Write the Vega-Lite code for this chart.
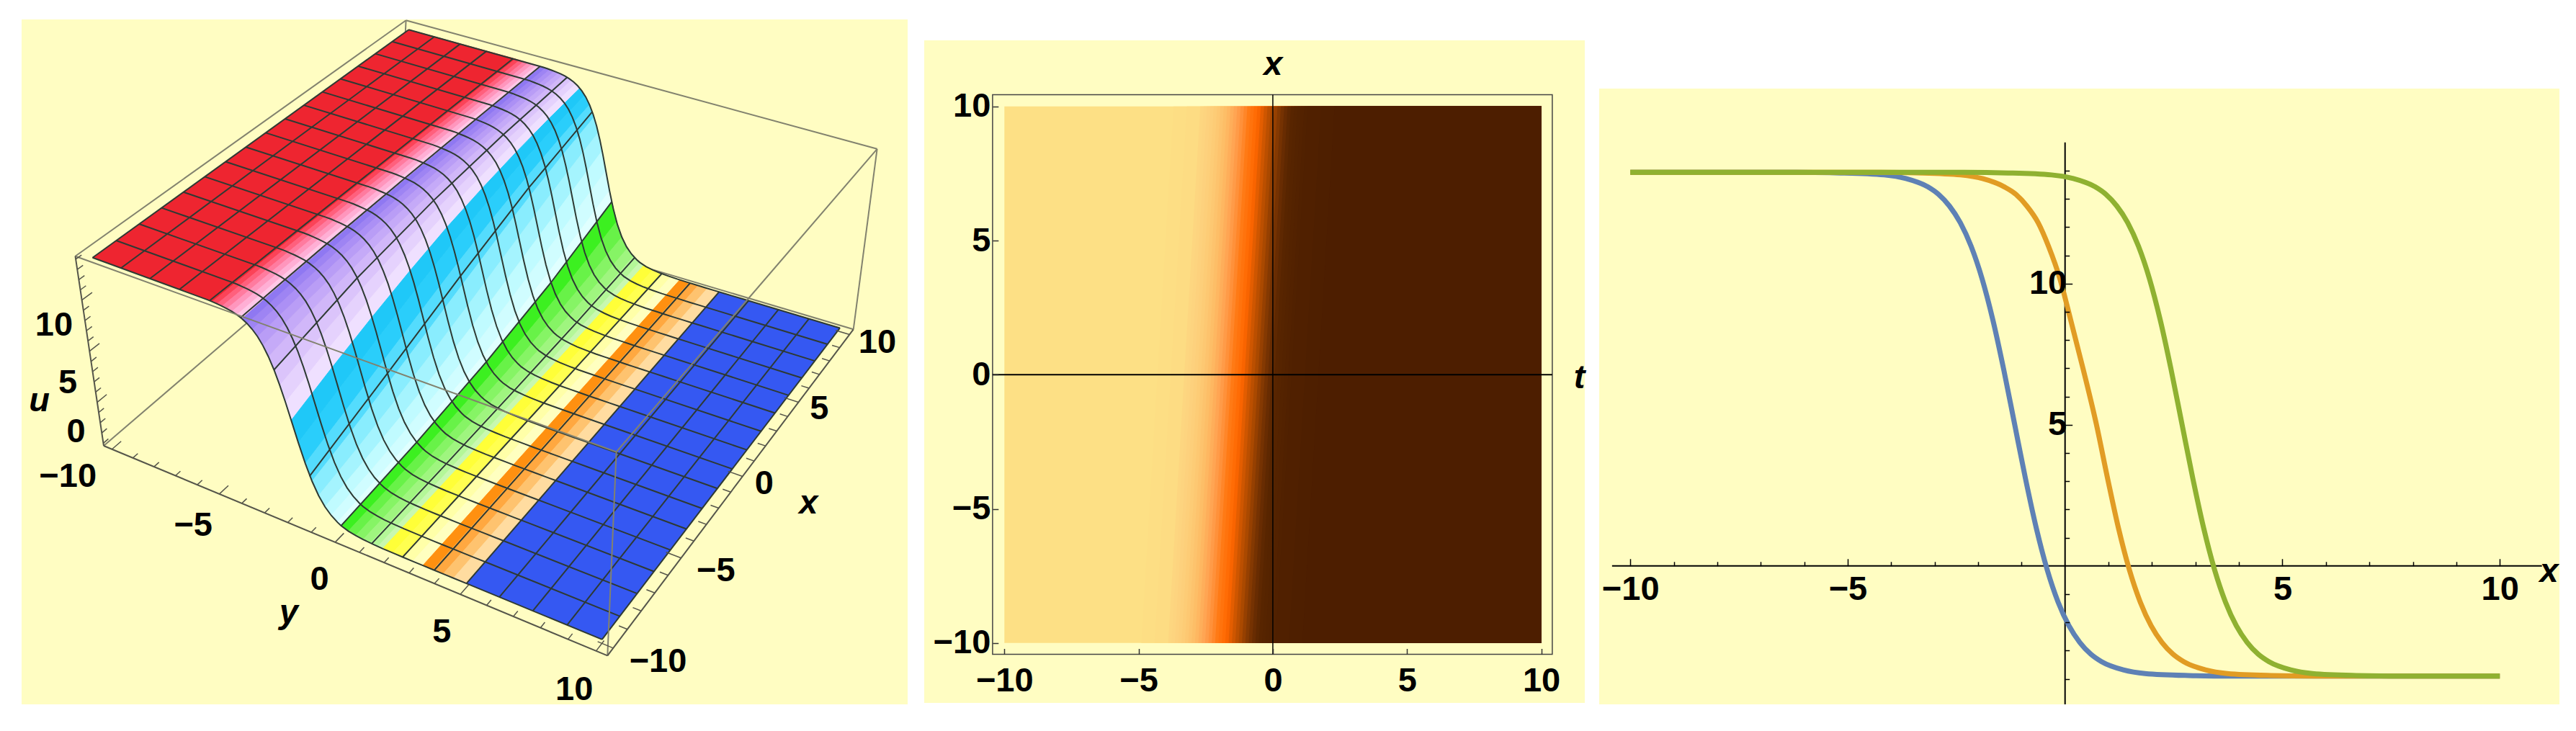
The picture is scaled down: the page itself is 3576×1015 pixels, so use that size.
{
"$schema":"https://vega.github.io/schema/vega-lite/v6.json",
"background":"white",
"padding":{"left":30,"top":24,"right":0,"bottom":0},
"spacing":10,
"bounds":"flush",
"resolve":{"scale":{"fill":"independent","stroke":"independent","color":"independent"}},
"config":{"view":{"stroke":null},"axis":{"labelFont":"Liberation Sans","labelFontWeight":"bold","labelFontSize":47,"labelColor":"black","titleFont":"Liberation Sans","titleFontWeight":"bold","titleFontStyle":"italic","titleFontSize":47,"titleColor":"black","grid":false}},
"datasets":{
"ynodes":[{"yn":-10},{"yn":-5.1},{"yn":-4.9},{"yn":-4.7},{"yn":-4.5},{"yn":-4.3},{"yn":-4.1},{"yn":-3.9},{"yn":-3.7},{"yn":-3.5},{"yn":-3.3},{"yn":-3.1},{"yn":-2.9},{"yn":-2.7},{"yn":-2.5},{"yn":-2.3},{"yn":-2.1},{"yn":-1.9},{"yn":-1.65},{"yn":-1.4},{"yn":-1.15},{"yn":-0.9},{"yn":-0.65},{"yn":-0.4},{"yn":-0.15},{"yn":0},{"yn":0.3},{"yn":0.6},{"yn":0.9},{"yn":1.2},{"yn":1.5},{"yn":1.7},{"yn":2.1},{"yn":2.5},{"yn":2.9},{"yn":3.3},{"yn":3.7},{"yn":4.1},{"yn":4.5},{"yn":5},{"yn":10}],
"prof":[{"s":-20,"u":13.94},{"s":-3.2,"u":13.87},{"s":-3,"u":13.85},{"s":-2.8,"u":13.8},{"s":-2.6,"u":13.75},{"s":-2.4,"u":13.68},{"s":-2.2,"u":13.58},{"s":-2,"u":13.43},{"s":-1.8,"u":13.22},{"s":-1.6,"u":12.93},{"s":-1.4,"u":12.54},{"s":-1.2,"u":12.02},{"s":-1,"u":11.32},{"s":-0.8,"u":10.43},{"s":-0.6,"u":9.34},{"s":-0.4,"u":8.04},{"s":-0.2,"u":6.58},{"s":0,"u":5.02},{"s":0.25,"u":3.09},{"s":0.5,"u":1.33},{"s":0.75,"u":-0.14},{"s":1,"u":-1.28},{"s":1.25,"u":-2.12},{"s":1.5,"u":-2.71},{"s":1.75,"u":-3.12},{"s":1.9,"u":-3.31},{"s":2.2,"u":-3.55},{"s":2.5,"u":-3.68},{"s":2.8,"u":-3.77},{"s":3.2,"u":-3.83},{"s":3.6,"u":-3.87},{"s":4,"u":-3.88},{"s":4.4,"u":-3.89},{"s":4.8,"u":-3.9},{"s":5.2,"u":-3.9},{"s":5.6,"u":-3.9},{"s":6,"u":-3.9},{"s":6.4,"u":-3.9},{"s":6.9,"u":-3.9},{"s":20,"u":-3.9}],
"ylines":[{"yl":-10,"px":-10,"pu":13.94},{"yl":-10,"px":10,"pu":13.94},{"yl":-8.75,"px":-10,"pu":13.94},{"yl":-8.75,"px":10,"pu":13.94},{"yl":-7.5,"px":-10,"pu":13.94},{"yl":-7.5,"px":10,"pu":13.94},{"yl":-6.25,"px":-10,"pu":13.93},{"yl":-6.25,"px":10,"pu":13.94},
{"yl":-5,"px":-10,"pu":13.87},{"yl":-5,"px":-5,"pu":13.9},{"yl":-5,"px":0,"pu":13.91},{"yl":-5,"px":5,"pu":13.93},{"yl":-5,"px":10,"pu":13.93},
{"yl":-3.75,"px":-10,"pu":13.28},{"yl":-3.75,"px":-5,"pu":13.58},{"yl":-3.75,"px":0,"pu":13.75},{"yl":-3.75,"px":5,"pu":13.84},{"yl":-3.75,"px":10,"pu":13.89},
{"yl":-2.5,"px":-10,"pu":9.34},{"yl":-2.5,"px":-5,"pu":11.2},{"yl":-2.5,"px":0,"pu":12.42},{"yl":-2.5,"px":5,"pu":13.13},{"yl":-2.5,"px":10,"pu":13.53},
{"yl":-1.25,"px":-10,"pu":0.25},{"yl":-1.25,"px":-5,"pu":2.9},{"yl":-1.25,"px":0,"pu":5.8},{"yl":-1.25,"px":5,"pu":8.55},{"yl":-1.25,"px":10,"pu":10.7},
{"yl":0,"px":-10,"pu":-3.31},{"yl":0,"px":-5,"pu":-2.75},{"yl":0,"px":0,"pu":-1.8},{"yl":0,"px":5,"pu":-0.28},{"yl":0,"px":10,"pu":2.03},
{"yl":1.25,"px":-10,"pu":-3.83},{"yl":1.25,"px":-5,"pu":-3.76},{"yl":1.25,"px":0,"pu":-3.63},{"yl":1.25,"px":5,"pu":-3.41},{"yl":1.25,"px":10,"pu":-3},
{"yl":2.5,"px":-10,"pu":-3.89},{"yl":2.5,"px":-5,"pu":-3.88},{"yl":2.5,"px":0,"pu":-3.87},{"yl":2.5,"px":5,"pu":-3.84},{"yl":2.5,"px":10,"pu":-3.79},{"yl":3.75,"px":-10,"pu":-3.9},{"yl":3.75,"px":10,"pu":-3.88},{"yl":5,"px":-10,"pu":-3.9},{"yl":5,"px":10,"pu":-3.9},{"yl":6.25,"px":-10,"pu":-3.9},{"yl":6.25,"px":10,"pu":-3.9},{"yl":7.5,"px":-10,"pu":-3.9},{"yl":7.5,"px":10,"pu":-3.9},{"yl":8.75,"px":-10,"pu":-3.9},{"yl":8.75,"px":10,"pu":-3.9},{"yl":10,"px":-10,"pu":-3.9},{"yl":10,"px":10,"pu":-3.9}],
"box":[{"e":"AD","f":"b","i":0,"px":-10.4,"py":-10.4,"pu":-4.26},{"e":"AD","f":"b","i":1,"px":10.4,"py":-10.4,"pu":-4.26},{"e":"DC","f":"b","i":0,"px":10.4,"py":-10.4,"pu":-4.26},{"e":"DC","f":"b","i":1,"px":10.4,"py":10.4,"pu":-4.26},{"e":"DD","f":"b","i":0,"px":10.4,"py":-10.4,"pu":-4.26},{"e":"DD","f":"b","i":1,"px":10.4,"py":-10.4,"pu":14.3},{"e":"AtDt","f":"b","i":0,"px":-10.4,"py":-10.4,"pu":14.3},{"e":"AtDt","f":"b","i":1,"px":10.4,"py":-10.4,"pu":14.3},{"e":"DtCt","f":"b","i":0,"px":10.4,"py":-10.4,"pu":14.3},{"e":"DtCt","f":"b","i":1,"px":10.4,"py":10.4,"pu":14.3},
{"e":"AtBt","f":"f","i":0,"px":-10.4,"py":-10.4,"pu":14.3},{"e":"AtBt","f":"f","i":1,"px":-10.4,"py":10.4,"pu":14.3},{"e":"BtCt","f":"f","i":0,"px":-10.4,"py":10.4,"pu":14.3},{"e":"BtCt","f":"f","i":1,"px":10.4,"py":10.4,"pu":14.3},{"e":"BB","f":"f","i":0,"px":-10.4,"py":10.4,"pu":-4.26},{"e":"BB","f":"f","i":1,"px":-10.4,"py":10.4,"pu":14.3},{"e":"CC","f":"f","i":0,"px":10.4,"py":10.4,"pu":-4.26},{"e":"CC","f":"f","i":1,"px":10.4,"py":10.4,"pu":14.3},
{"e":"AA","f":"a","i":0,"px":-10.4,"py":-10.4,"pu":-4.26},{"e":"AA","f":"a","i":1,"px":-10.4,"py":-10.4,"pu":14.3},{"e":"AB","f":"a","i":0,"px":-10.4,"py":-10.4,"pu":-4.26},{"e":"AB","f":"a","i":1,"px":-10.4,"py":10.4,"pu":-4.26},{"e":"BC","f":"a","i":0,"px":-10.4,"py":10.4,"pu":-4.26},{"e":"BC","f":"a","i":1,"px":10.4,"py":10.4,"pu":-4.26}],
"ticks":[{"k":"y","v":-10},{"k":"y","v":-9},{"k":"y","v":-8},{"k":"y","v":-7},{"k":"y","v":-6},{"k":"y","v":-5},{"k":"y","v":-4},{"k":"y","v":-3},{"k":"y","v":-2},{"k":"y","v":-1},{"k":"y","v":0},{"k":"y","v":1},{"k":"y","v":2},{"k":"y","v":3},{"k":"y","v":4},{"k":"y","v":5},{"k":"y","v":6},{"k":"y","v":7},{"k":"y","v":8},{"k":"y","v":9},{"k":"y","v":10},
{"k":"x","v":-10},{"k":"x","v":-9},{"k":"x","v":-8},{"k":"x","v":-7},{"k":"x","v":-6},{"k":"x","v":-5},{"k":"x","v":-4},{"k":"x","v":-3},{"k":"x","v":-2},{"k":"x","v":-1},{"k":"x","v":0},{"k":"x","v":1},{"k":"x","v":2},{"k":"x","v":3},{"k":"x","v":4},{"k":"x","v":5},{"k":"x","v":6},{"k":"x","v":7},{"k":"x","v":8},{"k":"x","v":9},{"k":"x","v":10},
{"k":"u","v":-4},{"k":"u","v":-3},{"k":"u","v":-2},{"k":"u","v":-1},{"k":"u","v":0},{"k":"u","v":1},{"k":"u","v":2},{"k":"u","v":3},{"k":"u","v":4},{"k":"u","v":5},{"k":"u","v":6},{"k":"u","v":7},{"k":"u","v":8},{"k":"u","v":9},{"k":"u","v":10},{"k":"u","v":11},{"k":"u","v":12},{"k":"u","v":13},{"k":"u","v":14}],
"labels3d":[{"t":"−10","py":-10.4,"px":-12.5,"pu":-4.26},{"t":"−5","py":-4.78,"px":-12.27,"pu":-4.26},{"t":"0","py":0.6,"px":-12.27,"pu":-4.26},{"t":"5","py":5.4,"px":-12.27,"pu":-4.26},{"t":"10","py":10.2,"px":-12.27,"pu":-4.26},{"t":"−10","py":11.86,"px":-9.8,"pu":-4.26},{"t":"−5","py":11.65,"px":-5,"pu":-4.26},{"t":"0","py":11.2,"px":0,"pu":-4.26},{"t":"5","py":11.2,"px":5,"pu":-4.26},{"t":"10","py":11.5,"px":10,"pu":-4.26},{"t":"0","py":-10.2,"px":-11.9,"pu":-0.6},{"t":"5","py":-10.2,"px":-11.9,"pu":4.16},{"t":"10","py":-10.4,"px":-11.9,"pu":9.6}],
"titles3d":[{"t":"u","py":-10.4,"px":-13.2,"pu":4.1},{"t":"y","py":0.62,"px":-14.14,"pu":-4.26},{"t":"x","py":12.9,"px":-0.2,"pu":-4.26}],
"density":[{"u":13.94,"x":-10,"t":-10},{"u":13.94,"x":10,"t":-10},{"u":13.85,"x":-10,"t":-4.9},{"u":13.85,"x":10,"t":-3.7},{"u":13.72,"x":-10,"t":-4.4},{"u":13.72,"x":10,"t":-3.2},{"u":13.43,"x":-10,"t":-3.9},{"u":13.43,"x":10,"t":-2.7},{"u":13.31,"x":-10,"t":-3.775},{"u":13.31,"x":10,"t":-2.575},{"u":13.16,"x":-10,"t":-3.65},{"u":13.16,"x":10,"t":-2.45},{"u":12.97,"x":-10,"t":-3.525},{"u":12.97,"x":10,"t":-2.325},{"u":12.75,"x":-10,"t":-3.4},{"u":12.75,"x":10,"t":-2.2},{"u":12.48,"x":-10,"t":-3.275},{"u":12.48,"x":10,"t":-2.075},{"u":12.16,"x":-10,"t":-3.15},{"u":12.16,"x":10,"t":-1.95},{"u":11.78,"x":-10,"t":-3.025},{"u":11.78,"x":10,"t":-1.825},{"u":11.32,"x":-10,"t":-2.9},{"u":11.32,"x":10,"t":-1.7},{"u":10.79,"x":-10,"t":-2.775},{"u":10.79,"x":10,"t":-1.575},{"u":10.18,"x":-10,"t":-2.65},{"u":10.18,"x":10,"t":-1.45},{"u":9.48,"x":-10,"t":-2.525},{"u":9.48,"x":10,"t":-1.325},{"u":8.71,"x":-10,"t":-2.4},{"u":8.71,"x":10,"t":-1.2},{"u":7.86,"x":-10,"t":-2.275},{"u":7.86,"x":10,"t":-1.075},{"u":6.95,"x":-10,"t":-2.15},{"u":6.95,"x":10,"t":-0.95},{"u":6,"x":-10,"t":-2.025},{"u":6,"x":10,"t":-0.825},{"u":5.02,"x":-10,"t":-1.9},{"u":5.02,"x":10,"t":-0.7},{"u":4.04,"x":-10,"t":-1.775},{"u":4.04,"x":10,"t":-0.575},{"u":3.09,"x":-10,"t":-1.65},{"u":3.09,"x":10,"t":-0.45},{"u":2.18,"x":-10,"t":-1.525},{"u":2.18,"x":10,"t":-0.325},{"u":1.33,"x":-10,"t":-1.4},{"u":1.33,"x":10,"t":-0.2},{"u":0.56,"x":-10,"t":-1.275},{"u":0.56,"x":10,"t":-0.075},{"u":-0.14,"x":-10,"t":-1.15},{"u":-0.14,"x":10,"t":0.05},{"u":-0.75,"x":-10,"t":-1.025},{"u":-0.75,"x":10,"t":0.175},{"u":-1.28,"x":-10,"t":-0.9},{"u":-1.28,"x":10,"t":0.3},{"u":-1.74,"x":-10,"t":-0.775},{"u":-1.74,"x":10,"t":0.425},{"u":-2.12,"x":-10,"t":-0.65},{"u":-2.12,"x":10,"t":0.55},{"u":-2.44,"x":-10,"t":-0.525},{"u":-2.44,"x":10,"t":0.675},{"u":-2.71,"x":-10,"t":-0.4},{"u":-2.71,"x":10,"t":0.8},{"u":-2.93,"x":-10,"t":-0.275},{"u":-2.93,"x":10,"t":0.925},{"u":-3.12,"x":-10,"t":-0.15},{"u":-3.12,"x":10,"t":1.05},{"u":-3.27,"x":-10,"t":-0.025},{"u":-3.27,"x":10,"t":1.175},{"u":-3.39,"x":-10,"t":0.1},{"u":-3.39,"x":10,"t":1.3},{"u":-3.68,"x":-10,"t":0.6},{"u":-3.68,"x":10,"t":1.8},{"u":-3.81,"x":-10,"t":1.1},{"u":-3.81,"x":10,"t":2.3}],
"curves":[{"c":"t1","x":-10,"u":13.94},{"c":"t1","x":-6.16,"u":13.94},{"c":"t1","x":-5.16,"u":13.92},{"c":"t1","x":-4.16,"u":13.85},{"c":"t1","x":-3.66,"u":13.72},{"c":"t1","x":-3.16,"u":13.43},{"c":"t1","x":-2.91,"u":13.16},{"c":"t1","x":-2.66,"u":12.75},{"c":"t1","x":-2.41,"u":12.16},{"c":"t1","x":-2.16,"u":11.32},{"c":"t1","x":-1.91,"u":10.18},{"c":"t1","x":-1.66,"u":8.71},{"c":"t1","x":-1.41,"u":6.95},{"c":"t1","x":-1.16,"u":5.02},{"c":"t1","x":-0.91,"u":3.09},{"c":"t1","x":-0.66,"u":1.33},{"c":"t1","x":-0.41,"u":-0.14},{"c":"t1","x":-0.16,"u":-1.28},{"c":"t1","x":0.09,"u":-2.12},{"c":"t1","x":0.34,"u":-2.71},{"c":"t1","x":0.59,"u":-3.12},{"c":"t1","x":0.84,"u":-3.39},{"c":"t1","x":1.34,"u":-3.68},{"c":"t1","x":1.84,"u":-3.81},{"c":"t1","x":2.84,"u":-3.88},{"c":"t1","x":3.84,"u":-3.9},{"c":"t1","x":10,"u":-3.9},
{"c":"t2","x":-10,"u":13.94},{"c":"t2","x":-4.27,"u":13.94},{"c":"t2","x":-3.27,"u":13.92},{"c":"t2","x":-2.4,"u":13.85},{"c":"t2","x":-1.9,"u":13.72},{"c":"t2","x":-1.4,"u":13.43},{"c":"t2","x":-1.13,"u":13.16},{"c":"t2","x":-0.88,"u":12.75},{"c":"t2","x":-0.62,"u":12.16},{"c":"t2","x":-0.38,"u":11.32},{"c":"t2","x":-0.12,"u":10.18},{"c":"t2","x":0.13,"u":8.71},{"c":"t2","x":0.42,"u":6.95},{"c":"t2","x":0.72,"u":5.02},{"c":"t2","x":0.98,"u":3.09},{"c":"t2","x":1.23,"u":1.33},{"c":"t2","x":1.48,"u":-0.14},{"c":"t2","x":1.73,"u":-1.28},{"c":"t2","x":1.98,"u":-2.12},{"c":"t2","x":2.23,"u":-2.71},{"c":"t2","x":2.48,"u":-3.12},{"c":"t2","x":2.73,"u":-3.39},{"c":"t2","x":3.23,"u":-3.68},{"c":"t2","x":3.73,"u":-3.81},{"c":"t2","x":4.73,"u":-3.88},{"c":"t2","x":5.73,"u":-3.9},{"c":"t2","x":10,"u":-3.9},
{"c":"t3","x":-10,"u":13.94},{"c":"t3","x":-2.31,"u":13.94},{"c":"t3","x":-1.31,"u":13.92},{"c":"t3","x":-0.31,"u":13.85},{"c":"t3","x":0.19,"u":13.72},{"c":"t3","x":0.69,"u":13.43},{"c":"t3","x":0.94,"u":13.16},{"c":"t3","x":1.19,"u":12.75},{"c":"t3","x":1.44,"u":12.16},{"c":"t3","x":1.69,"u":11.32},{"c":"t3","x":1.94,"u":10.18},{"c":"t3","x":2.19,"u":8.71},{"c":"t3","x":2.44,"u":6.95},{"c":"t3","x":2.69,"u":5.02},{"c":"t3","x":2.94,"u":3.09},{"c":"t3","x":3.19,"u":1.33},{"c":"t3","x":3.44,"u":-0.14},{"c":"t3","x":3.69,"u":-1.28},{"c":"t3","x":3.94,"u":-2.12},{"c":"t3","x":4.19,"u":-2.71},{"c":"t3","x":4.44,"u":-3.12},{"c":"t3","x":4.69,"u":-3.39},{"c":"t3","x":5.19,"u":-3.68},{"c":"t3","x":5.69,"u":-3.81},{"c":"t3","x":6.69,"u":-3.88},{"c":"t3","x":7.69,"u":-3.9},{"c":"t3","x":10,"u":-3.9}]
},
"hconcat":[
{"width":1230,"height":951,"view":{"fill":"#FFFDC2","stroke":null},
"layer":[
{"data":{"name":"box"},"transform":[{"filter":"datum.f=='b'"},
{"calculate":"(datum.py+10.4)/20.8","as":"a"},{"calculate":"(datum.px+10.4)/20.8","as":"b"},{"calculate":"(datum.pu+4.26)/18.56","as":"w"},{"calculate":"1-0.15013*datum.a+0.18627*datum.b","as":"bd"},{"calculate":"1-0.12835*datum.a+0.21951*datum.b","as":"td"},{"calculate":"(1-datum.w)*(572.7*datum.a+510.8*datum.b+144)/datum.bd+datum.w*(641.3*datum.a+582.8*datum.b+104.5)/datum.td","as":"sx"},{"calculate":"(1-datum.w)*(154.9*datum.a-300.1*datum.b+618)/datum.bd+datum.w*(191.4*datum.a-321.5*datum.b+354.7)/datum.td","as":"sy"}],
"mark":{"type":"line","stroke":"#82826E","strokeWidth":2},
"encoding":{"x":{"field":"sx","type":"quantitative","axis":null,"scale":{"domain":[30,1260],"nice":false,"zero":false}},"y":{"field":"sy","type":"quantitative","axis":null,"scale":{"domain":[977,26],"nice":false,"zero":false}},"detail":{"field":"e"},"order":{"field":"i"}}},
{"data":{"name":"ynodes"},"transform":[{"window":[{"op":"lead","field":"yn","as":"y1"}],"sort":[{"field":"yn"}]},{"filter":"isValid(datum.y1)"},{"calculate":"[-10,-7.5,-5,-2.5,0,2.5,5,7.5]","as":"xa"},{"flatten":["xa"]},{"calculate":"[0,1,2,3]","as":"i"},{"flatten":["i"]},{"calculate":"datum.i==0||datum.i==3?datum.xa:datum.xa+2.5","as":"px"},{"calculate":"datum.i<2?datum.yn:datum.y1","as":"py"},{"calculate":"datum.yn+'_'+datum.xa","as":"id"},{"calculate":"(datum.py+1.15-0.075*datum.px+5)/0.25","as":"q"},{"calculate":"max(0,min(39,floor(datum.q)))","as":"k"},{"calculate":"max(0,min(1,datum.q-datum.k))","as":"fr"},{"calculate":"[13.94,13.94,13.93,13.93,13.92,13.91,13.9,13.88,13.85,13.79,13.72,13.6,13.43,13.16,12.75,12.16,11.32,10.18,8.71,6.95,5.02,3.09,1.33,-0.14,-1.28,-2.12,-2.71,-3.12,-3.39,-3.56,-3.68,-3.76,-3.81,-3.84,-3.86,-3.87,-3.88,-3.89,-3.89,-3.9,-3.9]","as":"tb"},{"calculate":"datum.tb[datum.k]*(1-datum.fr)+datum.tb[datum.k+1]*datum.fr","as":"pu"},
{"calculate":"(datum.py+10.4)/20.8","as":"a"},{"calculate":"(datum.px+10.4)/20.8","as":"b"},{"calculate":"(datum.pu+4.26)/18.56","as":"w"},{"calculate":"1-0.15013*datum.a+0.18627*datum.b","as":"bd"},{"calculate":"1-0.12835*datum.a+0.21951*datum.b","as":"td"},{"calculate":"(1-datum.w)*(572.7*datum.a+510.8*datum.b+144)/datum.bd+datum.w*(641.3*datum.a+582.8*datum.b+104.5)/datum.td","as":"sx"},{"calculate":"(1-datum.w)*(154.9*datum.a-300.1*datum.b+618)/datum.bd+datum.w*(191.4*datum.a-321.5*datum.b+354.7)/datum.td","as":"sy"}],
"mark":{"type":"line","strokeWidth":1},
"encoding":{"x":{"field":"sx","type":"quantitative","axis":null,"scale":{"domain":[30,1260],"nice":false,"zero":false}},"y":{"field":"sy","type":"quantitative","axis":null,"scale":{"domain":[977,26],"nice":false,"zero":false}},"detail":{"field":"id"},"order":{"field":"i"},
"fill":{"field":"yn","type":"quantitative","legend":null,"scale":{"domain":[-10,-5.1,-3.9,-3.7,-2.1,-1.9,-1.5,-1.25,-0.65,-0.15,0,1.5,1.7,2.1,2.5,2.9,3.3,3.7,4.5,5,10],"range":["#EE2530","#EE2530","#FFC8E8","#8F78F2","#EFE0FF","#1FC8F8","#30D2FC","#7CEAFF","#C0FBFF","#E0FFFF","#3CF020","#C8F8B0","#FFFF38","#FFFF50","#FFFFA8","#FFFFC0","#FF9010","#FFA840","#FFDCA0","#3558F2","#3558F2"]}},
"stroke":{"field":"yn","type":"quantitative","legend":null,"scale":{"domain":[-10,-5.1,-3.9,-3.7,-2.1,-1.9,-1.5,-1.25,-0.65,-0.15,0,1.5,1.7,2.1,2.5,2.9,3.3,3.7,4.5,5,10],"range":["#EE2530","#EE2530","#FFC8E8","#8F78F2","#EFE0FF","#1FC8F8","#30D2FC","#7CEAFF","#C0FBFF","#E0FFFF","#3CF020","#C8F8B0","#FFFF38","#FFFF50","#FFFFA8","#FFFFC0","#FF9010","#FFA840","#FFDCA0","#3558F2","#3558F2"]}}}},
{"data":{"name":"prof"},"transform":[{"calculate":"[-10,-8.75,-7.5,-6.25,-5,-3.75,-2.5,-1.25,0,1.25,2.5,3.75,5,6.25,7.5,8.75,10]","as":"px"},{"flatten":["px"]},{"calculate":"max(-10,min(10,datum.s-1.15+0.075*datum.px))","as":"py"},{"calculate":"datum.u","as":"pu"},
{"calculate":"(datum.py+10.4)/20.8","as":"a"},{"calculate":"(datum.px+10.4)/20.8","as":"b"},{"calculate":"(datum.pu+4.26)/18.56","as":"w"},{"calculate":"1-0.15013*datum.a+0.18627*datum.b","as":"bd"},{"calculate":"1-0.12835*datum.a+0.21951*datum.b","as":"td"},{"calculate":"(1-datum.w)*(572.7*datum.a+510.8*datum.b+144)/datum.bd+datum.w*(641.3*datum.a+582.8*datum.b+104.5)/datum.td","as":"sx"},{"calculate":"(1-datum.w)*(154.9*datum.a-300.1*datum.b+618)/datum.bd+datum.w*(191.4*datum.a-321.5*datum.b+354.7)/datum.td","as":"sy"}],
"mark":{"type":"line","stroke":"#2E3A34","strokeWidth":2},
"encoding":{"x":{"field":"sx","type":"quantitative","axis":null,"scale":{"domain":[30,1260],"nice":false,"zero":false}},"y":{"field":"sy","type":"quantitative","axis":null,"scale":{"domain":[977,26],"nice":false,"zero":false}},"detail":{"field":"px"},"order":{"field":"s"}}},
{"data":{"name":"ylines"},"transform":[{"calculate":"datum.yl","as":"py"},
{"calculate":"(datum.py+10.4)/20.8","as":"a"},{"calculate":"(datum.px+10.4)/20.8","as":"b"},{"calculate":"(datum.pu+4.26)/18.56","as":"w"},{"calculate":"1-0.15013*datum.a+0.18627*datum.b","as":"bd"},{"calculate":"1-0.12835*datum.a+0.21951*datum.b","as":"td"},{"calculate":"(1-datum.w)*(572.7*datum.a+510.8*datum.b+144)/datum.bd+datum.w*(641.3*datum.a+582.8*datum.b+104.5)/datum.td","as":"sx"},{"calculate":"(1-datum.w)*(154.9*datum.a-300.1*datum.b+618)/datum.bd+datum.w*(191.4*datum.a-321.5*datum.b+354.7)/datum.td","as":"sy"}],
"mark":{"type":"line","stroke":"#2E3A34","strokeWidth":2},
"encoding":{"x":{"field":"sx","type":"quantitative","axis":null,"scale":{"domain":[30,1260],"nice":false,"zero":false}},"y":{"field":"sy","type":"quantitative","axis":null,"scale":{"domain":[977,26],"nice":false,"zero":false}},"detail":{"field":"yl"},"order":{"field":"px"}}},
{"data":{"name":"box"},"transform":[{"filter":"datum.f=='f'"},
{"calculate":"(datum.py+10.4)/20.8","as":"a"},{"calculate":"(datum.px+10.4)/20.8","as":"b"},{"calculate":"(datum.pu+4.26)/18.56","as":"w"},{"calculate":"1-0.15013*datum.a+0.18627*datum.b","as":"bd"},{"calculate":"1-0.12835*datum.a+0.21951*datum.b","as":"td"},{"calculate":"(1-datum.w)*(572.7*datum.a+510.8*datum.b+144)/datum.bd+datum.w*(641.3*datum.a+582.8*datum.b+104.5)/datum.td","as":"sx"},{"calculate":"(1-datum.w)*(154.9*datum.a-300.1*datum.b+618)/datum.bd+datum.w*(191.4*datum.a-321.5*datum.b+354.7)/datum.td","as":"sy"}],
"mark":{"type":"line","stroke":"#82826E","strokeWidth":2},
"encoding":{"x":{"field":"sx","type":"quantitative","axis":null,"scale":{"domain":[30,1260],"nice":false,"zero":false}},"y":{"field":"sy","type":"quantitative","axis":null,"scale":{"domain":[977,26],"nice":false,"zero":false}},"detail":{"field":"e"},"order":{"field":"i"}}},
{"data":{"name":"box"},"transform":[{"filter":"datum.f=='a'"},
{"calculate":"(datum.py+10.4)/20.8","as":"a"},{"calculate":"(datum.px+10.4)/20.8","as":"b"},{"calculate":"(datum.pu+4.26)/18.56","as":"w"},{"calculate":"1-0.15013*datum.a+0.18627*datum.b","as":"bd"},{"calculate":"1-0.12835*datum.a+0.21951*datum.b","as":"td"},{"calculate":"(1-datum.w)*(572.7*datum.a+510.8*datum.b+144)/datum.bd+datum.w*(641.3*datum.a+582.8*datum.b+104.5)/datum.td","as":"sx"},{"calculate":"(1-datum.w)*(154.9*datum.a-300.1*datum.b+618)/datum.bd+datum.w*(191.4*datum.a-321.5*datum.b+354.7)/datum.td","as":"sy"}],
"mark":{"type":"line","stroke":"#55554A","strokeWidth":2},
"encoding":{"x":{"field":"sx","type":"quantitative","axis":null,"scale":{"domain":[30,1260],"nice":false,"zero":false}},"y":{"field":"sy","type":"quantitative","axis":null,"scale":{"domain":[977,26],"nice":false,"zero":false}},"detail":{"field":"e"},"order":{"field":"i"}}},
{"data":{"name":"ticks"},"transform":[{"calculate":"[0,1]","as":"e"},{"flatten":["e"]},{"calculate":"(datum.v%5==0?0.55:0.3)*datum.e","as":"len"},{"calculate":"datum.k=='x'?datum.v:-10.4+datum.len","as":"px"},{"calculate":"datum.k=='y'?datum.v:(datum.k=='x'?10.4-datum.len:-10.4)","as":"py"},{"calculate":"datum.k=='u'?datum.v:-4.26","as":"pu"},{"calculate":"datum.k+datum.v","as":"id"},
{"calculate":"(datum.py+10.4)/20.8","as":"a"},{"calculate":"(datum.px+10.4)/20.8","as":"b"},{"calculate":"(datum.pu+4.26)/18.56","as":"w"},{"calculate":"1-0.15013*datum.a+0.18627*datum.b","as":"bd"},{"calculate":"1-0.12835*datum.a+0.21951*datum.b","as":"td"},{"calculate":"(1-datum.w)*(572.7*datum.a+510.8*datum.b+144)/datum.bd+datum.w*(641.3*datum.a+582.8*datum.b+104.5)/datum.td","as":"sx"},{"calculate":"(1-datum.w)*(154.9*datum.a-300.1*datum.b+618)/datum.bd+datum.w*(191.4*datum.a-321.5*datum.b+354.7)/datum.td","as":"sy"}],
"mark":{"type":"line","stroke":"#55554A","strokeWidth":1.5},
"encoding":{"x":{"field":"sx","type":"quantitative","axis":null,"scale":{"domain":[30,1260],"nice":false,"zero":false}},"y":{"field":"sy","type":"quantitative","axis":null,"scale":{"domain":[977,26],"nice":false,"zero":false}},"detail":{"field":"id"},"order":{"field":"e"}}},
{"data":{"name":"labels3d"},"transform":[
{"calculate":"(datum.py+10.4)/20.8","as":"a"},{"calculate":"(datum.px+10.4)/20.8","as":"b"},{"calculate":"(datum.pu+4.26)/18.56","as":"w"},{"calculate":"1-0.15013*datum.a+0.18627*datum.b","as":"bd"},{"calculate":"1-0.12835*datum.a+0.21951*datum.b","as":"td"},{"calculate":"(1-datum.w)*(572.7*datum.a+510.8*datum.b+144)/datum.bd+datum.w*(641.3*datum.a+582.8*datum.b+104.5)/datum.td","as":"sx"},{"calculate":"(1-datum.w)*(154.9*datum.a-300.1*datum.b+618)/datum.bd+datum.w*(191.4*datum.a-321.5*datum.b+354.7)/datum.td","as":"sy"}],
"mark":{"type":"text","font":"Liberation Sans","fontWeight":"bold","fontSize":47,"color":"black","align":"center","baseline":"middle"},
"encoding":{"x":{"field":"sx","type":"quantitative","axis":null,"scale":{"domain":[30,1260],"nice":false,"zero":false}},"y":{"field":"sy","type":"quantitative","axis":null,"scale":{"domain":[977,26],"nice":false,"zero":false}},"text":{"field":"t"}}},
{"data":{"name":"titles3d"},"transform":[
{"calculate":"(datum.py+10.4)/20.8","as":"a"},{"calculate":"(datum.px+10.4)/20.8","as":"b"},{"calculate":"(datum.pu+4.26)/18.56","as":"w"},{"calculate":"1-0.15013*datum.a+0.18627*datum.b","as":"bd"},{"calculate":"1-0.12835*datum.a+0.21951*datum.b","as":"td"},{"calculate":"(1-datum.w)*(572.7*datum.a+510.8*datum.b+144)/datum.bd+datum.w*(641.3*datum.a+582.8*datum.b+104.5)/datum.td","as":"sx"},{"calculate":"(1-datum.w)*(154.9*datum.a-300.1*datum.b+618)/datum.bd+datum.w*(191.4*datum.a-321.5*datum.b+354.7)/datum.td","as":"sy"}],
"mark":{"type":"text","font":"Liberation Sans","fontWeight":"bold","fontStyle":"italic","fontSize":47,"color":"black","align":"center","baseline":"middle"},
"encoding":{"x":{"field":"sx","type":"quantitative","axis":null,"scale":{"domain":[30,1260],"nice":false,"zero":false}},"y":{"field":"sy","type":"quantitative","axis":null,"scale":{"domain":[977,26],"nice":false,"zero":false}},"text":{"field":"t"}}}
]},
{"width":940,"height":951,
"layer":[
{"data":{"values":[{"t0":-12.986,"t1":11.62,"x0":12.464,"x1":-12.234}]},
"mark":{"type":"rect","fill":"#FFFDC2"},
"encoding":{"x":{"field":"t0","type":"quantitative","scale":{"domain":[-13.335,11.889],"nice":false,"zero":false},
"axis":{"values":[-10,-5,0,5,10],"offset":-69.5,"domain":false,"ticks":true,"tickSize":-8,"tickColor":"#333","tickWidth":1.5,"labelPadding":22,"labelFlush":false,"zindex":2,"title":"t","titleX":922,"titleY":-384,"titleAngle":0,"titleAlign":"center","titleBaseline":"middle","titleAnchor":null}},"x2":{"field":"t1"},
"y":{"field":"x0","type":"quantitative","scale":{"domain":[-12.287,13.243],"nice":false,"zero":false},
"axis":{"values":[-10,-5,0,5,10],"offset":-107.8,"domain":false,"ticks":true,"tickSize":-8,"tickColor":"#333","tickWidth":1.5,"labelPadding":11,"labelFlush":false,"zindex":2,"title":"x","titleX":389,"titleY":62,"titleAngle":0,"titleAlign":"center","titleBaseline":"middle","titleAnchor":null}},"y2":{"field":"x1"}}},
{"data":{"name":"density"},
"mark":{"type":"area","orient":"horizontal"},
"encoding":{"x":{"field":"t","type":"quantitative","scale":{"domain":[-13.335,11.889],"nice":false,"zero":false}},"x2":{"datum":10},"y":{"field":"x","type":"quantitative","scale":{"domain":[-12.287,13.243],"nice":false,"zero":false}},"detail":{"field":"u"},
"fill":{"field":"u","type":"quantitative","legend":null,"scale":{"domain":[-3.9,-2.25,0.45,4.3,7,9.9,13.2,13.94],"range":["#4C1E00","#5A2600","#A84800","#FF6600","#FF7A15","#FFA050","#FDD27E","#FDE085"]}}}},
{"data":{"values":[{"t0":-10.44,"t1":10.41,"x0":10.44,"x1":-10.42}]},
"mark":{"type":"rect","fill":null,"stroke":"#444","strokeWidth":1.5},
"encoding":{"x":{"field":"t0","type":"quantitative","scale":{"domain":[-13.335,11.889],"nice":false,"zero":false}},"x2":{"field":"t1"},"y":{"field":"x0","type":"quantitative","scale":{"domain":[-12.287,13.243],"nice":false,"zero":false}},"y2":{"field":"x1"}}},
{"mark":{"type":"rule","color":"black","strokeWidth":2},"data":{"values":[{"t0":-10.44,"t1":10.41,"x0":0}]},
"encoding":{"x":{"field":"t0","type":"quantitative","scale":{"domain":[-13.335,11.889],"nice":false,"zero":false}},"x2":{"field":"t1"},"y":{"field":"x0","type":"quantitative","scale":{"domain":[-12.287,13.243],"nice":false,"zero":false}}}},
{"mark":{"type":"rule","color":"black","strokeWidth":1.5},"data":{"values":[{"t0":0,"x0":10.44,"x1":-10.42}]},
"encoding":{"x":{"field":"t0","type":"quantitative","scale":{"domain":[-13.335,11.889],"nice":false,"zero":false}},"y":{"field":"x0","type":"quantitative","scale":{"domain":[-12.287,13.243],"nice":false,"zero":false}},"y2":{"field":"x1"}}}
]},
{"width":1333,"height":951,
"layer":[
{"data":{"values":[{"x0":-10.716,"x1":11.372,"u0":16.908,"u1":-4.903}]},
"mark":{"type":"rect","fill":"#FFFDC2"},
"encoding":{"x":{"field":"x0","type":"quantitative","scale":{"domain":[-10.716,11.372],"nice":false,"zero":false},
"axis":{"values":[-10,-9,-8,-7,-6,-5,-4,-3,-2,-1,1,2,3,4,5,6,7,8,9,10],"format":"d","offset":-192.2,"domain":false,"tickSize":{"condition":{"test":"datum.value%5==0","value":-10},"value":-6},"tickColor":"black","tickWidth":1.5,"labelPadding":20,"labelFlush":false,"labelExpr":"datum.value%5==0?datum.label:''","zindex":2,"title":"x","titleX":1318,"titleY":8,"titleAngle":0,"titleAlign":"center","titleBaseline":"middle","titleAnchor":null}},"x2":{"field":"x1"},
"y":{"field":"u0","type":"quantitative","scale":{"domain":[-4.903,19.357],"nice":false,"zero":false},
"axis":{"values":[-4,-3,-2,-1,1,2,3,4,5,6,7,8,9,10,11,12,13,14],"format":"d","offset":-646.7,"domain":false,"tickSize":{"condition":{"test":"datum.value%5==0","value":-10},"value":-6},"tickColor":"black","tickWidth":1.5,"labelPadding":8,"labelFlush":false,"labelExpr":"datum.value%5==0?datum.label:''","zindex":2,"title":null}},"y2":{"field":"u1"}}},
{"mark":{"type":"rule","color":"black","strokeWidth":2},"data":{"values":[{"x0":-10.42,"x1":10.97,"u0":0}]},
"encoding":{"x":{"field":"x0","type":"quantitative","scale":{"domain":[-10.716,11.372],"nice":false,"zero":false}},"x2":{"field":"x1"},"y":{"field":"u0","type":"quantitative","scale":{"domain":[-4.903,19.357],"nice":false,"zero":false}}}},
{"mark":{"type":"rule","color":"black","strokeWidth":2},"data":{"values":[{"x0":0,"u0":15,"u1":-4.903}]},
"encoding":{"x":{"field":"x0","type":"quantitative","scale":{"domain":[-10.716,11.372],"nice":false,"zero":false}},"y":{"field":"u0","type":"quantitative","scale":{"domain":[-4.903,19.357],"nice":false,"zero":false}},"y2":{"field":"u1"}}},
{"data":{"name":"curves"},"mark":{"type":"line","strokeWidth":7,"interpolate":"monotone"},
"encoding":{"x":{"field":"x","type":"quantitative","scale":{"domain":[-10.716,11.372],"nice":false,"zero":false}},"y":{"field":"u","type":"quantitative","scale":{"domain":[-4.903,19.357],"nice":false,"zero":false}},"color":{"field":"c","type":"nominal","legend":null,"scale":{"domain":["t1","t2","t3"],"range":["#5E81B5","#E19C24","#8FB131"]}}}}
]}
]}
